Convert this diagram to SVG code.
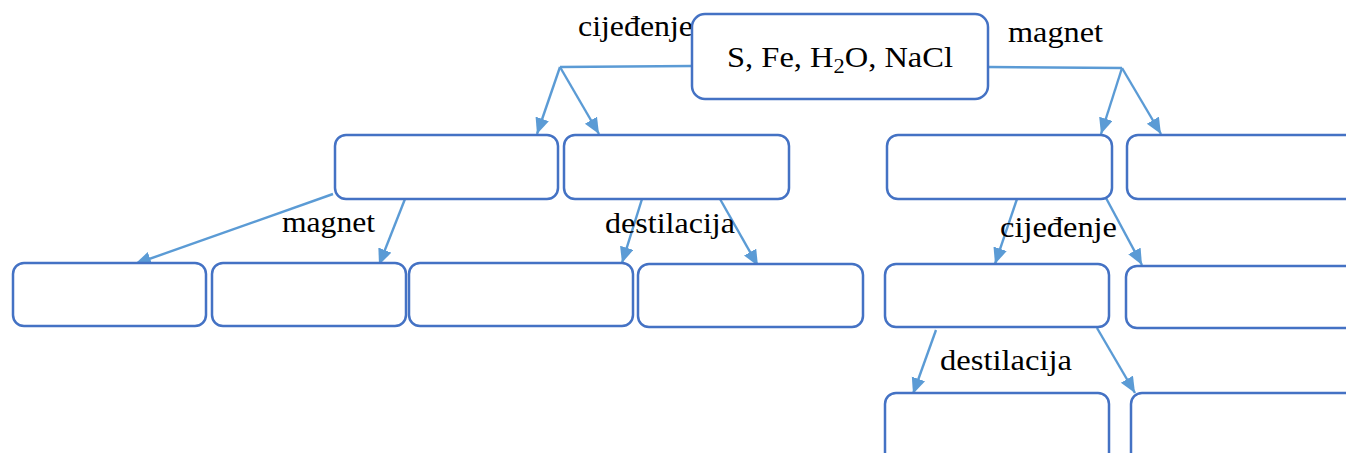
<svg xmlns="http://www.w3.org/2000/svg" width="1346" height="453" viewBox="0 0 1346 453">
<defs>
<style>
.box{fill:#fff;stroke:#4472C4;stroke-width:2.5}
.con{fill:none;stroke:#5B9BD5;stroke-width:2.4}
.arr{marker-end:url(#ah)}
text{font-family:"Liberation Serif","Times New Roman",serif;font-size:29px;fill:#000}
</style>
<marker id="ah" markerUnits="userSpaceOnUse" markerWidth="17" markerHeight="15" refX="16" refY="7" orient="auto">
<path d="M0,0 L16,7 L0,14 z" fill="#5B9BD5"/>
</marker>
</defs>
<rect width="1346" height="453" fill="#fff"/>
<g id="connectors">
<polyline class="con" points="692,66 560,67"/>
<line class="con arr" x1="560" y1="67" x2="537" y2="134"/>
<line class="con arr" x1="560" y1="67" x2="599" y2="134"/>
<polyline class="con" points="988,67 1122,68"/>
<line class="con arr" x1="1122" y1="68" x2="1101" y2="134"/>
<line class="con arr" x1="1122" y1="68" x2="1161" y2="134"/>
<line class="con arr" x1="333" y1="194" x2="135" y2="264"/>
<line class="con arr" x1="405" y1="199" x2="379" y2="265"/>
<line class="con arr" x1="642" y1="199" x2="622" y2="263"/>
<line class="con arr" x1="720" y1="199" x2="758" y2="266"/>
<line class="con arr" x1="1017" y1="199" x2="995" y2="264"/>
<line class="con arr" x1="1106" y1="198" x2="1142" y2="265"/>
<line class="con arr" x1="936" y1="330" x2="913" y2="394"/>
<line class="con arr" x1="1097" y1="328" x2="1135" y2="393"/>
</g>
<g id="labels">
<text x="578" y="36" textLength="115" lengthAdjust="spacingAndGlyphs">cijeđenje</text>
<text x="1008" y="42" textLength="95" lengthAdjust="spacingAndGlyphs">magnet</text>
<text x="282" y="232" textLength="93" lengthAdjust="spacingAndGlyphs">magnet</text>
<text x="605" y="233" textLength="130" lengthAdjust="spacingAndGlyphs">destilacija</text>
<text x="1000" y="237" textLength="117" lengthAdjust="spacingAndGlyphs">cijeđenje</text>
<text x="940" y="370" textLength="132" lengthAdjust="spacingAndGlyphs">destilacija</text>
</g>
<g id="root">
<rect class="box" x="692" y="14" width="296" height="85" rx="13"/>
<text x="727" y="67" font-size="30" textLength="226" lengthAdjust="spacingAndGlyphs">S, Fe, H<tspan font-size="20" dy="6">2</tspan><tspan dy="-6">O, NaCl</tspan></text>
</g>
<g id="n1"><rect class="box" x="335" y="135" width="223" height="64" rx="11"/></g>
<g id="n2"><rect class="box" x="564" y="135" width="225" height="64" rx="11"/></g>
<g id="n3"><rect class="box" x="887" y="135" width="225" height="64" rx="11"/></g>
<g id="n4"><rect class="box" x="1127" y="135" width="240" height="64" rx="11"/></g>
<g id="n5"><rect class="box" x="13" y="263" width="193" height="63" rx="11"/></g>
<g id="n6"><rect class="box" x="212" y="263" width="194" height="63" rx="11"/></g>
<g id="n7"><rect class="box" x="409" y="263" width="224" height="63" rx="11"/></g>
<g id="n8"><rect class="box" x="638" y="264" width="225" height="63" rx="11"/></g>
<g id="n9"><rect class="box" x="885" y="264" width="224" height="63" rx="11"/></g>
<g id="n10"><rect class="box" x="1126" y="266" width="240" height="62" rx="11"/></g>
<g id="n11"><rect class="box" x="885" y="393" width="224" height="75" rx="11"/></g>
<g id="n12"><rect class="box" x="1131" y="393" width="240" height="75" rx="11"/></g>
</svg>
